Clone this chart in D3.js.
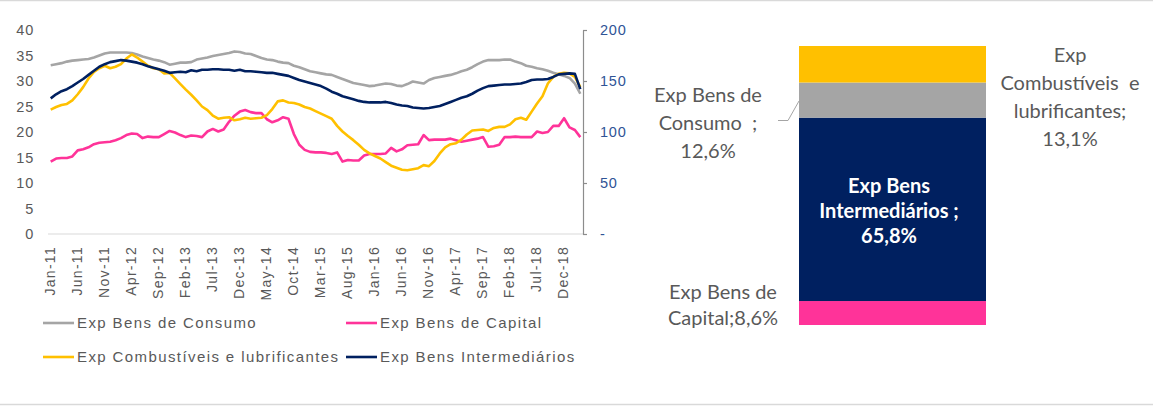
<!DOCTYPE html>
<html>
<head>
<meta charset="utf-8">
<script src="https://cdn.jsdelivr.net/npm/d3@7"></script>
<style>
  body { margin: 0; background: #fff; }
  svg { display: block; }
</style>
</head>
<body>
<div id="chart"></div>
<script>
let width = 1153
let height = 406

// monthly series Jan-11 .. Mar-19
let start_year = 2011
let month_names = ['Jan', 'Feb', 'Mar', 'Apr', 'May', 'Jun', 'Jul', 'Aug', 'Sep', 'Oct', 'Nov', 'Dec']

let consumo = [33.1, 33.3, 33.5, 33.8, 34.0, 34.1, 34.2, 34.3, 34.6, 35.0, 35.4, 35.6, 35.6, 35.6, 35.6, 35.5, 35.2, 34.8, 34.5, 34.2,
  34.0, 33.7, 33.2, 33.4, 33.6, 33.6, 33.7, 34.2, 34.4, 34.6, 34.9, 35.1, 35.3, 35.5, 35.8, 35.7, 35.4, 35.3, 34.9, 34.5,
  34.2, 34.1, 33.8, 33.6, 33.5, 33.0, 32.7, 32.3, 31.9, 31.7, 31.5, 31.3, 31.2, 30.8, 30.4, 30.0, 29.6, 29.4, 29.2, 29.0,
  29.1, 29.3, 29.5, 29.4, 29.1, 29.0, 29.4, 29.9, 29.7, 29.5, 30.2, 30.6, 30.8, 31.0, 31.2, 31.5, 31.9, 32.2, 32.7, 33.3,
  33.8, 34.1, 34.1, 34.1, 34.2, 34.2, 33.8, 33.5, 33.0, 32.8, 32.5, 32.3, 32.0, 31.6, 31.3, 31.0, 30.6, 29.5, 27.5]

let capital = [14.2, 14.8, 14.9, 14.9, 15.2, 16.4, 16.6, 17.0, 17.6, 17.9, 18.0, 18.1, 18.4, 18.8, 19.4, 19.7, 19.6, 18.8, 19.1, 19.0,
  19.0, 19.6, 20.2, 19.9, 19.4, 19.0, 19.3, 19.2, 19.0, 20.1, 20.6, 20.1, 20.5, 22.0, 23.2, 24.0, 24.3, 23.9, 23.7, 23.7,
  22.5, 21.9, 22.3, 22.9, 22.6, 19.6, 17.5, 16.5, 16.1, 16.0, 16.0, 15.9, 15.7, 16.0, 14.2, 14.5, 14.4, 14.4, 15.4, 15.7,
  15.7, 15.7, 15.8, 16.9, 16.2, 16.6, 17.4, 17.5, 17.6, 19.4, 18.4, 18.5, 18.5, 18.5, 18.7, 18.4, 18.1, 18.3, 18.5, 18.7,
  19.0, 17.1, 17.2, 17.5, 19.0, 19.0, 19.1, 19.0, 19.0, 19.0, 20.1, 19.8, 20.0, 21.2, 21.2, 22.7, 20.9, 20.4, 19.0]

let combustiveis = [24.4, 24.9, 25.3, 25.5, 26.2, 27.4, 28.8, 30.5, 31.8, 32.5, 33.0, 32.5, 32.8, 33.3, 34.4, 35.2, 34.6, 33.8, 33.0, 32.5,
  32.3, 31.5, 31.6, 30.5, 29.4, 28.3, 27.3, 26.2, 25.0, 24.3, 23.2, 22.6, 22.8, 22.9, 22.3, 22.5, 22.8, 22.6, 22.7, 22.8,
  23.3, 24.5, 26.0, 26.2, 25.8, 25.7, 25.4, 24.9, 24.6, 24.1, 23.6, 23.1, 22.6, 21.2, 20.1, 19.2, 18.4, 17.5, 16.5, 15.8,
  15.3, 14.8, 14.1, 13.4, 13.0, 12.6, 12.5, 12.7, 12.9, 13.5, 13.3, 14.3, 15.8, 17.0, 17.6, 17.8, 18.5, 19.5, 20.3, 20.4,
  20.5, 20.2, 20.8, 21.0, 21.0, 21.5, 22.5, 22.8, 22.4, 24.0, 25.6, 27.0, 29.5, 30.8, 31.4, 31.6, 31.5, 30.8, 28.8]

let intermediarios = [26.6, 27.4, 28.0, 28.4, 29.0, 29.7, 30.4, 31.2, 32.0, 32.8, 33.3, 33.7, 33.9, 34.1, 34.0, 33.8, 33.6, 33.3, 32.9, 32.6,
  32.3, 32.0, 31.6, 31.7, 31.8, 31.7, 32.1, 31.9, 32.2, 32.2, 32.3, 32.3, 32.2, 32.2, 32.0, 32.2, 31.9, 31.9, 31.8, 31.7,
  31.6, 31.6, 31.4, 31.2, 31.0, 30.6, 30.2, 29.9, 29.6, 29.3, 29.0, 28.5, 27.9, 27.5, 27.0, 26.7, 26.4, 26.1, 25.9, 25.8,
  25.8, 25.8, 25.9, 25.7, 25.4, 25.2, 25.1, 24.8, 24.7, 24.6, 24.7, 24.9, 25.1, 25.5, 25.9, 26.3, 26.7, 27.0, 27.5, 28.1,
  28.6, 29.0, 29.1, 29.2, 29.3, 29.3, 29.4, 29.5, 29.8, 30.2, 30.3, 30.3, 30.4, 30.8, 31.3, 31.4, 31.5, 31.4, 28.4]

let left_ticks = [0, 5, 10, 15, 20, 25, 30, 35, 40]
let right_ticks = [0, 50, 100, 150, 200]

// stacked bar (share of exports, %)
let bar_names = ['Exp Bens de Capital', 'Exp Bens Intermediários', 'Exp Bens de Consumo', 'Exp Combustíveis e lubrificantes']
let bar_values = [8.6, 65.8, 12.6, 13.1]

let months = consumo.map((d, i) => {
  let m = i % 12
  let y = start_year + Math.floor(i / 12)
  return month_names[m] + '-' + String(y).slice(2)
})

let series = [
  { name: 'Exp Bens de Consumo', values: consumo, color: '#A5A5A5' },
  { name: 'Exp Bens de Capital', values: capital, color: '#FF3399' },
  { name: 'Exp Combustíveis e lubrificantes', values: combustiveis, color: '#FFC000' },
  { name: 'Exp Bens Intermediários', values: intermediarios, color: '#002060' }
]
let bar_colors = ['#FF3399', '#002060', '#A5A5A5', '#FFC000']

let svg = d3.select('#chart')
            .append('svg')
            .attr('width', width)
            .attr('height', height)
            .style('font-family', '"Liberation Sans", Arial, sans-serif')

// frame lines top / bottom
svg.append('line').attr('x1', 0).attr('x2', width).attr('y1', 0.5).attr('y2', 0.5)
    .style('stroke', '#D9D9D9').style('stroke-width', 1.5)
svg.append('line').attr('x1', 0).attr('x2', width).attr('y1', 404.5).attr('y2', 404.5)
    .style('stroke', '#D9D9D9').style('stroke-width', 1.5)

let x = d3.scaleBand()
          .domain(months)
          .range([48, 583])
let xc = d => x(d) + x.bandwidth() / 2

let y = d3.scaleLinear().domain([0, 40]).range([234, 30])
let y_right = d3.scaleLinear().domain([0, 200]).range([234, 30])

// left axis labels
svg.append('g')
    .attr('transform', 'translate(34,0)')
    .call(d3.axisLeft(y).tickValues(left_ticks).tickSize(0).tickPadding(0))
    .call(g => g.select('.domain').remove())
    .selectAll('text')
    .style('font-size', '14.5px')
    .style('letter-spacing', '0.8px')
    .style('font-family', '"Liberation Sans", Arial, sans-serif')
    .attr('fill', '#595959')

// baseline
svg.append('line')
    .attr('x1', 48).attr('x2', 583)
    .attr('y1', y(0)).attr('y2', y(0))
    .style('stroke', '#D9D9D9').style('stroke-width', 1.2)

// right axis
svg.append('g')
    .attr('transform', 'translate(583,0)')
    .call(d3.axisRight(y_right).tickValues(right_ticks).tickSize(4).tickSizeOuter(0).tickPadding(13)
            .tickFormat(d => d === 0 ? '-' : d))
    .call(g => g.select('.domain').style('stroke', '#8C8C8C').style('stroke-width', 1.2))
    .call(g => g.selectAll('line').style('stroke', '#8C8C8C').style('stroke-width', 1.2))
    .selectAll('text')
    .style('font-size', '14.5px')
    .style('letter-spacing', '0.8px')
    .style('font-family', '"Liberation Sans", Arial, sans-serif')
    .attr('fill', '#2F5496')

// x axis labels (every 5 months)
let x_ticks = months.filter((d, i) => i % 5 === 0 && i < 96)
let x_axis = svg.append('g')
                .attr('transform', 'translate(0,' + y(0) + ')')
                .call(d3.axisBottom(x).tickValues(x_ticks).tickSize(0))
x_axis.select('.domain').remove()
x_axis.selectAll('text')
      .attr('transform', 'rotate(-90)')
      .attr('x', -12)
      .attr('y', -1)
      .attr('dy', '0.35em')
      .style('text-anchor', 'end')
      .style('font-size', '14px')
      .style('letter-spacing', '1.3px')
      .style('font-family', '"Liberation Sans", Arial, sans-serif')
      .attr('fill', '#595959')

let line = d3.line()
             .x((d, i) => xc(months[i]))
             .y(d => y(d))

svg.append('g')
    .selectAll('path')
    .data(series)
    .enter()
    .append('path')
    .attr('d', d => line(d.values))
    .style('fill', 'none')
    .style('stroke', d => d.color)
    .style('stroke-width', 2.6)
    .style('stroke-linejoin', 'round')

// legend
let legend_pos = [[43, 323], [346, 323], [43, 357], [346, 357]]
let legend = svg.append('g')
                .selectAll('g')
                .data(series)
                .enter()
                .append('g')
                .attr('transform', (d, i) => 'translate(' + legend_pos[i][0] + ',' + legend_pos[i][1] + ')')
legend.append('line')
      .attr('x1', 0).attr('x2', 31)
      .style('stroke', d => d.color)
      .style('stroke-width', 2.6)
legend.append('text')
      .attr('x', 34)
      .attr('dy', '0.35em')
      .style('font-size', '15px')
      .style('letter-spacing', '1.4px')
      .attr('fill', '#595959')
      .text(d => d.name)

// stacked bar
let bar_y = d3.scaleLinear().domain([0, d3.sum(bar_values)]).range([325, 46])
let stack = []
let acc = 0
bar_values.forEach((v, i) => {
  stack.push({ name: bar_names[i], value: v, y0: acc, y1: acc + v, color: bar_colors[i] })
  acc += v
})

svg.append('g')
    .selectAll('rect')
    .data(stack)
    .enter()
    .append('rect')
    .attr('x', 799)
    .attr('width', 187)
    .attr('y', d => bar_y(d.y1))
    .attr('height', d => bar_y(d.y0) - bar_y(d.y1))
    .style('fill', d => d.color)

// leader line for Consumo
svg.append('polyline')
    .attr('points', '778,120.5 788,120.5 799,101')
    .style('fill', 'none')
    .style('stroke', '#A5A5A5')
    .style('stroke-width', 1)

let fmt = v => String(v).replace('.', ',') + '%'
let bar_labels = [
  { lines: ['Exp Bens de', 'Capital;' + fmt(bar_values[0])], x: 723, y: 299, gap: 26, color: '#595959', weight: 'normal' },
  { lines: ['Exp Bens', 'Intermediários ;', fmt(bar_values[1])], x: 889, y: 193, gap: 25, color: '#FFFFFF', weight: 'bold' },
  { lines: ['Exp Bens de', 'Consumo  ;', fmt(bar_values[2])], x: 708, y: 102, gap: 28, color: '#595959', weight: 'normal' },
  { lines: ['Exp', 'Combustíveis  e', 'lubrificantes;', fmt(bar_values[3])], x: 1070, y: 62, gap: 28, color: '#595959', weight: 'normal' }
]

let lbl = svg.append('g')
             .selectAll('text')
             .data(bar_labels)
             .enter()
             .append('text')
             .attr('x', d => d.x)
             .attr('y', d => d.y)
             .attr('text-anchor', 'middle')
             .style('font-family', 'Lato, "Open Sans", sans-serif')
             .style('font-size', '20px')
             .style('font-weight', d => d.weight)
             .style('white-space', 'pre')
             .attr('fill', d => d.color)
lbl.selectAll('tspan')
   .data(d => d.lines.map((t, i) => ({ t: t, i: i, d: d })))
   .enter()
   .append('tspan')
   .attr('x', d => d.d.x)
   .attr('y', d => d.d.y + d.i * d.d.gap)
   .text(d => d.t)
</script>
</body>
</html>
